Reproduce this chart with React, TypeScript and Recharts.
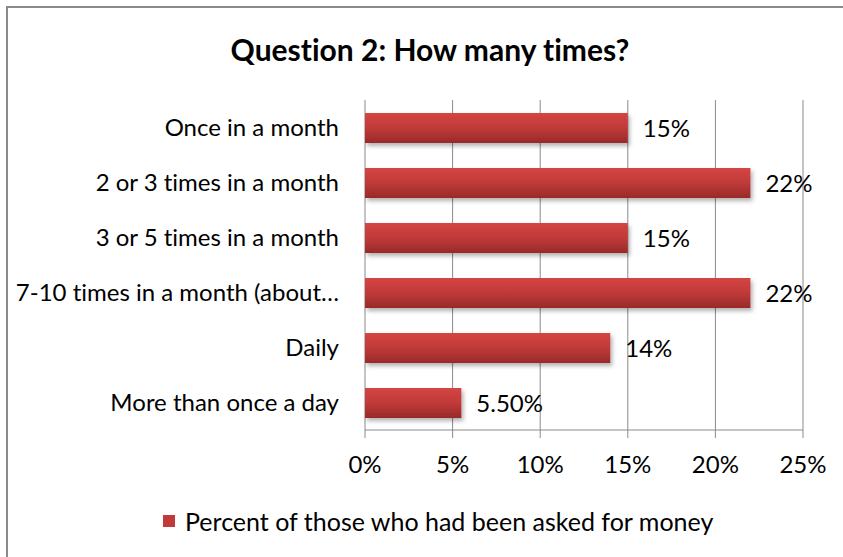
import {
  BarChart,
  Bar,
  XAxis,
  YAxis,
  CartesianGrid,
  LabelList,
} from "recharts";

const categories = [
  "Once in a month",
  "2 or 3 times in a month",
  "3 or 5 times in a month",
  "7-10 times in a month (about…",
  "Daily",
  "More than once a day",
];
const percents = [15, 22, 15, 22, 14, 5.5];
const valueLabels = ["15%", "22%", "15%", "22%", "14%", "5.50%"];
const xTicks = [0, 5, 10, 15, 20, 25];

const seriesName = "Percent of those who had been asked for money";
const title = "Question 2: How many times?";

const data = categories.map((name, i) => ({
  name,
  value: percents[i],
  label: valueLabels[i],
}));

const font = "Lato, 'Open Sans', sans-serif";

export default function App() {
  return (
    <div
      style={{
        position: "absolute",
        left: 0,
        top: 0,
        width: 843,
        height: 557,
        overflow: "hidden",
        background: "#fff",
        fontFamily: font,
        fontVariantLigatures: "none",
        fontFeatureSettings: '"liga" 0, "clig" 0',
      }}
    >
      <div
        style={{
          position: "absolute",
          left: 6,
          top: 6,
          width: 900,
          height: 600,
          border: "2px solid #8a8a8a",
          boxSizing: "border-box",
        }}
      />
      <div
        style={{
          position: "absolute",
          left: 0,
          width: 860,
          top: 31,
          lineHeight: "36px",
          textAlign: "center",
          fontSize: 30,
          fontWeight: 700,
          color: "#000",
        }}
      >
        {title}
      </div>
      <div style={{ position: "absolute", left: 0, top: 0 }}>
        <BarChart
          width={843}
          height={557}
          data={data}
          layout="vertical"
          margin={{ top: 100, right: 40, bottom: 97, left: 0 }}
          barSize={30}
        >
          <defs>
            <linearGradient id="barFill" x1="0" y1="0" x2="0" y2="1">
              <stop offset="0%" stopColor="#d44543" />
              <stop offset="50%" stopColor="#c03a39" />
              <stop offset="100%" stopColor="#982a29" />
            </linearGradient>
            <filter id="barShadow" x="-10%" y="-30%" width="120%" height="180%">
              <feDropShadow dx="2" dy="3" stdDeviation="2" floodColor="#000" floodOpacity="0.3" />
            </filter>
          </defs>
          <CartesianGrid horizontal={false} stroke="#8a8a8a" />
          <XAxis
            type="number"
            domain={[0, 25]}
            ticks={xTicks}
            tickFormatter={(v: number) => `${v}%`}
            height={30}
            axisLine={{ stroke: "#8a8a8a" }}
            tickLine={{ stroke: "#8a8a8a" }}
            tickSize={8}
            tickMargin={18}
            tick={{ fill: "#000", fontSize: 24, fontFamily: font }}
            interval={0}
          />
          <YAxis
            type="category"
            dataKey="name"
            width={365}
            axisLine={false}
            tickLine={false}
            tickMargin={20}
            tick={{ fill: "#000", fontSize: 24, fontFamily: font }}
            interval={0}
          />
          <Bar
            dataKey="value"
            name={seriesName}
            fill="url(#barFill)"
            filter="url(#barShadow)"
            isAnimationActive={false}
          >
            <LabelList
              dataKey="label"
              position="right"
              offset={15}
              style={{ fill: "#000", fontSize: 24, fontFamily: font }}
            />
          </Bar>
        </BarChart>
      </div>
      <div
        style={{
          position: "absolute",
          left: 163,
          top: 505,
          height: 32,
          display: "flex",
          alignItems: "center",
          fontSize: 25,
          color: "#000",
          whiteSpace: "nowrap",
        }}
      >
        <span
          style={{
            display: "inline-block",
            width: 12,
            height: 12,
            background: "#c03a39",
            marginRight: 10,
          }}
        />
        {seriesName}
      </div>
    </div>
  );
}
